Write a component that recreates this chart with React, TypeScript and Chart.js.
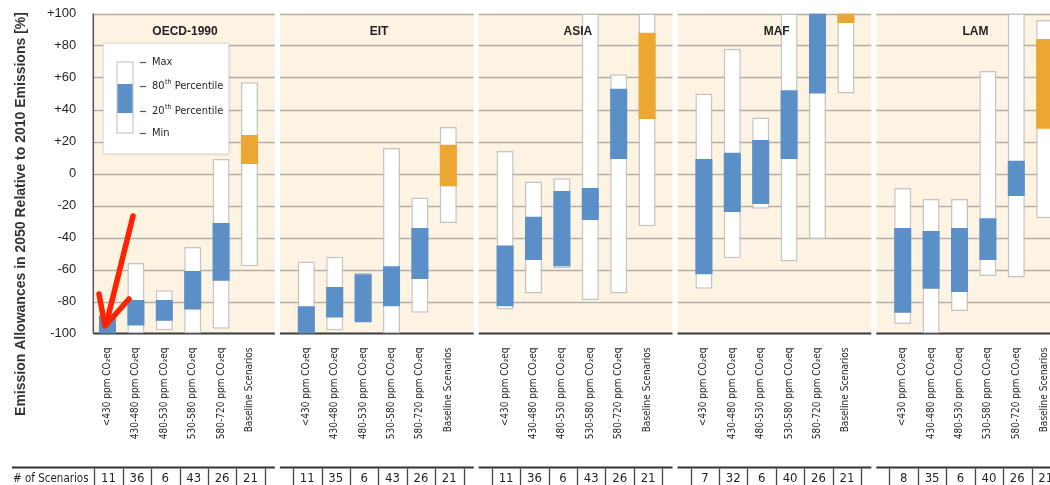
import React, { useEffect, useRef } from "react";
import { Chart, registerables } from "chart.js";

Chart.register(...registerables);

const REGIONS = ["OECD-1990", "EIT", "ASIA", "MAF", "LAM"];
const CATEGORIES = [
  "<430 ppm CO\u2082eq",
  "430-480 ppm CO\u2082eq",
  "480-530 ppm CO\u2082eq",
  "530-580 ppm CO\u2082eq",
  "580-720 ppm CO\u2082eq",
  "Baseline Scenarios",
];
const Y_TICKS = [-100, -80, -60, -40, -20, 0, 20, 40, 60, 80, 100];

const OECD_MAX = [-88, -56, -73, -46, 9, 57];
const OECD_P80 = [-89, -79, -79, -61, -31, 24];
const OECD_P20 = [-100, -95, -92, -85, -67, 6];
const OECD_MIN = [-100, -100, -98, -100, -97, -58];

const EIT_MAX = [-55, -52, -62, 16, -15, 29];
const EIT_P80 = [-83, -71, -63, -58, -34, 18];
const EIT_P20 = [-100, -90, -93, -83, -66, -8];
const EIT_MIN = [-100, -98, -93, -100, -87, -31];

const ASIA_MAX = [14, -5, -3, 100, 62, 100];
const ASIA_P80 = [-45, -27, -11, -9, 53, 88];
const ASIA_P20 = [-83, -54, -58, -29, 9, 34];
const ASIA_MIN = [-85, -75, -59, -79, -75, -33];

const MAF_MAX = [50, 78, 35, 100, 100, 100];
const MAF_P80 = [9, 13, 21, 52, 100, 100];
const MAF_P20 = [-63, -24, -19, 9, 50, 94];
const MAF_MIN = [-72, -53, -22, -55, -41, 50];

const LAM_MAX = [-9, -16, -16, 64, 100, 96];
const LAM_P80 = [-34, -36, -34, -28, 8, 84];
const LAM_P20 = [-87, -72, -74, -54, -14, 28];
const LAM_MIN = [-94, -100, -86, -64, -65, -28];

const SCEN_OECD = [11, 36, 6, 43, 26, 21];
const SCEN_EIT = [11, 35, 6, 43, 26, 21];
const SCEN_ASIA = [11, 36, 6, 43, 26, 21];
const SCEN_MAF = [7, 32, 6, 40, 26, 21];
const SCEN_LAM = [8, 35, 6, 40, 26, 21];

const MAXS = [OECD_MAX, EIT_MAX, ASIA_MAX, MAF_MAX, LAM_MAX];
const P80S = [OECD_P80, EIT_P80, ASIA_P80, MAF_P80, LAM_P80];
const P20S = [OECD_P20, EIT_P20, ASIA_P20, MAF_P20, LAM_P20];
const MINS = [OECD_MIN, EIT_MIN, ASIA_MIN, MAF_MIN, LAM_MIN];
const SCENS = [SCEN_OECD, SCEN_EIT, SCEN_ASIA, SCEN_MAF, SCEN_LAM];

const BLUE = "#5b8fc8";
const ORANGE = "#eca732";
const PANEL_BG = "#fdf3e3";
const GRID = "#b4aea6";
const TEXT = "#231f20";
const NARROW = '"Liberation Sans Narrow", "DejaVu Sans Condensed", "Liberation Sans", sans-serif';
const SANS = '"Liberation Sans", "DejaVu Sans", sans-serif';

// slot layout: 6 bars + 1 gap slot per region
const labels: string[] = [];
const rangeData: any[] = [];
const pctData: any[] = [];
const pctColors: string[] = [];
REGIONS.forEach((_, r) => {
  CATEGORIES.forEach((c, i) => {
    labels.push(c);
    rangeData.push([MINS[r][i], MAXS[r][i]]);
    pctData.push([P20S[r][i], P80S[r][i]]);
    pctColors.push(i === 5 ? ORANGE : BLUE);
  });
  labels.push("");
  rangeData.push(null);
  pctData.push(null);
  pctColors.push(BLUE);
});

function panelBounds(chart: any, k: number) {
  const x = chart.scales.x;
  const l = k === 0 ? chart.chartArea.left : x.getPixelForValue(7 * k - 1) + 2;
  const r = x.getPixelForValue(7 * k + 6) - 3;
  return { l, r };
}

const decorPlugin = {
  id: "decor",
  beforeDatasetsDraw(chart: any) {
    const { ctx, chartArea } = chart;
    const { top, bottom, left } = chartArea;
    const y = chart.scales.y;
    ctx.save();
    for (let k = 0; k < REGIONS.length; k++) {
      const { l, r } = panelBounds(chart, k);
      ctx.fillStyle = PANEL_BG;
      ctx.fillRect(l, top, r - l, bottom - top);
      ctx.strokeStyle = GRID;
      ctx.lineWidth = 1.3;
      Y_TICKS.forEach((v) => {
        if (v === -100) return;
        const py = Math.round(y.getPixelForValue(v)) + 0.5;
        ctx.beginPath();
        ctx.moveTo(l, py);
        ctx.lineTo(r, py);
        ctx.stroke();
      });
      ctx.strokeStyle = "#3a3a3a";
      ctx.lineWidth = 2.2;
      ctx.beginPath();
      ctx.moveTo(l, bottom);
      ctx.lineTo(r, bottom);
      ctx.stroke();
    }
    ctx.strokeStyle = "#555";
    ctx.lineWidth = 1.5;
    ctx.beginPath();
    ctx.moveTo(left, top);
    ctx.lineTo(left, bottom);
    ctx.stroke();
    ctx.restore();
  },
  afterDatasetsDraw(chart: any) {
    const { ctx } = chart;
    const x = chart.scales.x;
    ctx.save();
    // panel titles
    ctx.fillStyle = TEXT;
    ctx.font = "bold 12px " + SANS;
    ctx.textAlign = "center";
    ctx.textBaseline = "middle";
    for (let k = 0; k < REGIONS.length; k++) {
      const cx = k === 0 ? 185 : x.getPixelForValue(7 * k + 2) + 16;
      ctx.fillText(REGIONS[k], cx, 32);
    }
    // legend box
    ctx.shadowColor = "rgba(0,0,0,0.18)";
    ctx.shadowBlur = 3;
    ctx.shadowOffsetX = 1;
    ctx.shadowOffsetY = 1;
    ctx.fillStyle = "#ffffff";
    ctx.fillRect(103, 43, 125, 110);
    ctx.shadowColor = "transparent";
    ctx.strokeStyle = "#e2e2e2";
    ctx.lineWidth = 1;
    ctx.strokeRect(103.5, 43.5, 125, 110);
    // mini bar
    ctx.fillStyle = "#fff";
    ctx.fillRect(117, 62, 16, 71);
    ctx.fillStyle = BLUE;
    ctx.fillRect(117, 84, 16, 29);
    ctx.strokeStyle = "#c8c8c8";
    ctx.lineWidth = 1.2;
    ctx.strokeRect(117, 62, 16, 71);
    const rows = [
      { y: 62, a: "Max", sup: "", b: "" },
      { y: 86, a: "80", sup: "th", b: " Percentile" },
      { y: 111, a: "20", sup: "th", b: " Percentile" },
      { y: 133, a: "Min", sup: "", b: "" },
    ];
    ctx.textAlign = "left";
    ctx.textBaseline = "middle";
    rows.forEach((row) => {
      ctx.strokeStyle = "#555";
      ctx.lineWidth = 1.2;
      ctx.beginPath();
      ctx.moveTo(140, row.y + 0.5);
      ctx.lineTo(146, row.y + 0.5);
      ctx.stroke();
      ctx.fillStyle = TEXT;
      ctx.font = "11px " + NARROW;
      let xx = 152;
      ctx.fillText(row.a, xx, row.y);
      xx += ctx.measureText(row.a).width;
      if (row.sup) {
        ctx.font = "7px " + NARROW;
        ctx.fillText(row.sup, xx + 0.5, row.y - 3.5);
        xx += ctx.measureText(row.sup).width + 0.5;
        ctx.font = "11px " + NARROW;
        ctx.fillText(row.b, xx, row.y);
      }
    });
    ctx.restore();
  },
  afterDraw(chart: any) {
    const { ctx } = chart;
    const x = chart.scales.x;
    const half = (x.getPixelForValue(1) - x.getPixelForValue(0)) / 2;
    ctx.save();
    // y-axis title
    ctx.translate(21, 214);
    ctx.rotate(-Math.PI / 2);
    ctx.fillStyle = "#333";
    ctx.font = "bold 14px " + SANS;
    ctx.textAlign = "center";
    ctx.textBaseline = "middle";
    ctx.fillText("Emission Allowances in 2050 Relative to 2010 Emissions [%]", 0, 0);
    ctx.restore();

    // table
    ctx.save();
    const lineY = 467.5;
    ctx.fillStyle = TEXT;
    ctx.font = "11.5px " + NARROW;
    ctx.textBaseline = "middle";
    ctx.textAlign = "left";
    ctx.fillText("# of Scenarios", 13, 479);
    ctx.font = "13px " + NARROW;
    for (let k = 0; k < REGIONS.length; k++) {
      const { l, r } = panelBounds(chart, k);
      ctx.strokeStyle = "#333";
      ctx.lineWidth = 2;
      ctx.beginPath();
      ctx.moveTo(k === 0 ? 12 : l, lineY);
      ctx.lineTo(r, lineY);
      ctx.stroke();
      ctx.lineWidth = 1.3;
      ctx.strokeStyle = "#444";
      for (let i = 0; i <= 6; i++) {
        const ex = Math.round(x.getPixelForValue(7 * k + i) - half) + 1.5;
        ctx.beginPath();
        ctx.moveTo(ex, lineY + 1);
        ctx.lineTo(ex, 486);
        ctx.stroke();
      }
      ctx.textAlign = "center";
      SCENS[k].forEach((n, i) => {
        ctx.fillText(String(n), x.getPixelForValue(7 * k + i) + 1, 479);
      });
      ctx.textAlign = "left";
    }
    ctx.restore();

    // red arrow annotation
    ctx.save();
    ctx.strokeStyle = "#ff2200";
    ctx.lineWidth = 5.5;
    ctx.lineCap = "round";
    ctx.lineJoin = "round";
    ctx.beginPath();
    ctx.moveTo(133, 216);
    ctx.lineTo(106, 325);
    ctx.stroke();
    ctx.beginPath();
    ctx.moveTo(99, 294);
    ctx.lineTo(105, 326);
    ctx.lineTo(129, 299);
    ctx.stroke();
    ctx.restore();
  },
};

export default function App() {
  const ref = useRef<HTMLCanvasElement | null>(null);
  useEffect(() => {
    if (!ref.current) return;
    const chart = new Chart(ref.current, {
      type: "bar",
      data: {
        labels,
        datasets: [
          {
            label: "20th-80th Percentile",
            data: pctData,
            backgroundColor: pctColors,
            borderWidth: 0,
            grouped: false,
            order: 1,
            categoryPercentage: 1,
            barPercentage: 0.6,
          } as any,
          {
            label: "Min-Max",
            data: rangeData,
            backgroundColor: "#ffffff",
            borderColor: "#c4c4c4",
            borderWidth: 1.5,
            borderSkipped: false,
            grouped: false,
            order: 2,
            categoryPercentage: 1,
            barPercentage: 0.6,
          } as any,
        ],
      },
      options: {
        responsive: false,
        animation: false,
        layout: { padding: { top: 13.5, right: 0.7, left: 0, bottom: 0 } },
        plugins: { legend: { display: false }, tooltip: { enabled: false } },
        scales: {
          x: {
            type: "category",
            grid: { display: false },
            border: { display: false },
            ticks: {
              autoSkip: false,
              maxRotation: 90,
              minRotation: 90,
              padding: 6,
              color: TEXT,
              font: { family: NARROW, size: 10 },
            },
            afterFit: (s: any) => {
              s.height = 151.5;
              s.paddingLeft = 0;
              s.paddingRight = 0;
              s.paddingTop = 0;
              s.paddingBottom = 0;
            },
          },
          y: {
            min: -100,
            max: 100,
            grid: { display: false },
            border: { display: false },
            ticks: {
              stepSize: 20,
              padding: 9,
              color: TEXT,
              font: { family: SANS, size: 13 },
              callback: (v: any) => (Number(v) > 0 ? "+" + v : String(v)),
            },
            afterFit: (s: any) => {
              s.width = 93.3;
              s.paddingTop = 0;
              s.paddingBottom = 0;
              s.paddingLeft = 0;
              s.paddingRight = 0;
            },
          },
        },
      },
      plugins: [decorPlugin],
    });
    return () => chart.destroy();
  }, []);
  return (
    <div
      style={{
        position: "absolute",
        left: 0,
        top: 0,
        width: 1050,
        height: 485,
        overflow: "hidden",
        background: "#fff",
      }}
    >
      <canvas ref={ref} width={1088} height={485} style={{ display: "block", width: 1088, height: 485 }} />
    </div>
  );
}
